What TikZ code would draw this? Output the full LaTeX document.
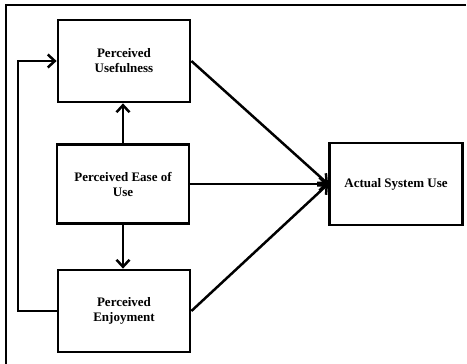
\documentclass[tikz,border=0pt]{standalone}
\usepackage{fontspec}
\setmainfont{Liberation Serif}
\usetikzlibrary{arrows.meta}
\begin{document}
\begin{tikzpicture}[x=1pt,y=-1pt,
  box/.style={draw,line width=2.8pt,minimum width=132pt,minimum height=82pt,
    align=center,inner sep=2pt,font=\fontsize{13}{15}\selectfont\bfseries},
  link/.style={line width=2.5pt,-{Straight Barb[length=7pt,width=13pt,line width=2.5pt]}}]
  \useasboundingbox (0,0) rectangle (467,364);
  % frame (top and left edges)
  \draw[line width=1.8pt] (466,5) -- (6,5) -- (6,364);
  % constructs
  \node[box] (pu)   at (124,61)  {Perceived\\Usefulness};
  \node[box,minimum height=79pt] (peou) at (123,184) {Perceived Ease of\\Use};
  \node[box] (pe)   at (124,311) {Perceived\\Enjoyment};
  \node[box,minimum width=133pt] (asu)  at (396,184) {Actual System Use};
  % relations
  \draw[link] (peou.north) -- (pu.south -| peou.north);
  \draw[link] (peou.south) -- (pe.north -| peou.south);
  \draw[link] (pu.east) -- (asu.west);
  \draw[link] (peou.east) -- (asu.west);
  \draw[link] (pe.east) -- (asu.west);
  \coordinate (fb) at (18,0);
  \draw[link] (pe.west) -- (pe.west -| fb) -- (pu.west -| fb) -- (pu.west);
\end{tikzpicture}
\end{document}
